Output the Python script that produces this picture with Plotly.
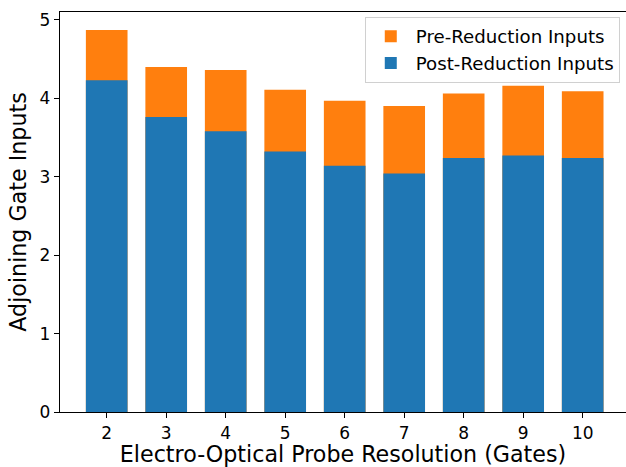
import plotly.graph_objects as go

resolution = [2, 3, 4, 5, 6, 7, 8, 9, 10]
pre_reduction = [4.87, 4.40, 4.36, 4.11, 3.97, 3.90, 4.06, 4.16, 4.09]
post_reduction = [4.23, 3.76, 3.58, 3.32, 3.14, 3.04, 3.24, 3.27, 3.24]

FONT = "DejaVu Sans"

fig = go.Figure()
fig.add_trace(go.Bar(x=resolution, y=pre_reduction, name="Pre-Reduction Inputs",
                     legendgroup="pre",
                     marker=dict(color="#ff7f0e", line=dict(width=0)), width=0.7))
fig.add_trace(go.Bar(x=resolution, y=post_reduction, name="Post-Reduction Inputs",
                     legendgroup="post",
                     marker=dict(color="#1f77b4", line=dict(width=0)), width=0.7))

fig.update_layout(
    width=626, height=467,
    barmode="overlay",
    plot_bgcolor="white", paper_bgcolor="white",
    margin=dict(l=60, r=0, t=12, b=55, autoexpand=False),
    font=dict(family=FONT, color="black", size=17),
    legend=dict(x=0.989, y=0.9875, xanchor="right", yanchor="top",
                bgcolor="rgba(255,255,255,0.8)", bordercolor="#d0d0d0", borderwidth=1,
                font=dict(size=18.2, family=FONT), traceorder="grouped",
                tracegroupgap=0, itemwidth=40),
    xaxis=dict(
        range=[1.215, 10.728], tickmode="array", tickvals=resolution,
        ticktext=[str(v) for v in resolution],
        showline=True, linecolor="black", linewidth=1.3, mirror=True,
        ticks="outside", ticklen=5, tickwidth=1.1, tickcolor="black",
        showgrid=False, zeroline=False, automargin=False,
        tickfont=dict(size=17),
        title=dict(text="Electro-Optical Probe Resolution (Gates)", font=dict(size=22.2), standoff=10),
    ),
    yaxis=dict(
        range=[0, 5.1], tickvals=[0, 1, 2, 3, 4, 5],
        showline=True, linecolor="black", linewidth=1.3, mirror=False,
        ticks="outside", ticklen=5, tickwidth=1.1, tickcolor="black",
        showgrid=False, zeroline=False, automargin=False,
        tickfont=dict(size=17),
        title=dict(text="Adjoining Gate Inputs", font=dict(size=22.2), standoff=6),
    ),
)

# remove the page's default 8px body margin so the 626x467 figure fills the window exactly
fig.write_html("out.html", config={"displayModeBar": False},
               post_script="document.documentElement.style.overflow='hidden';document.body.style.margin='0';document.body.style.overflow='hidden';")
